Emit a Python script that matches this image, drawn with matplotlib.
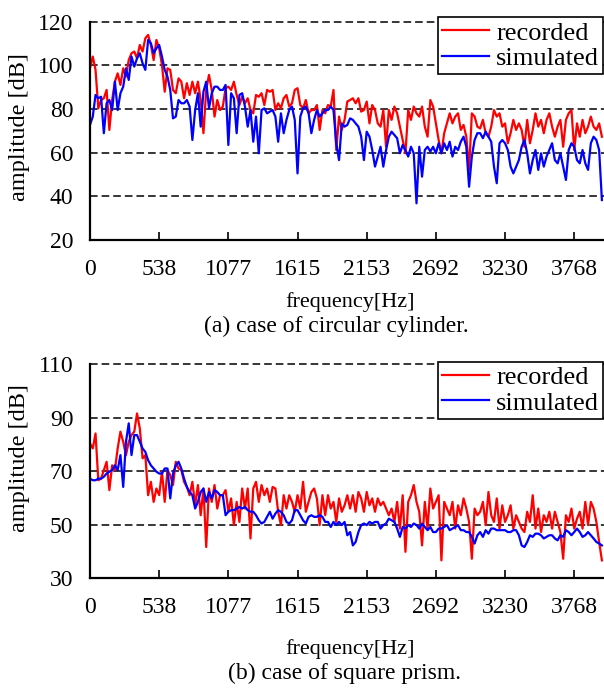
import numpy as np
import matplotlib
matplotlib.use('Agg')
import matplotlib.pyplot as plt

plt.rcParams['font.family'] = ['Liberation Serif', 'DejaVu Serif']

# spectrum bins (every 2nd FFT bin, 44100/2048 Hz)
bin_hz = 44100 / 2048

# (a) circular cylinder, amplitude [dB]
rec_a = [98.6, 104.0, 97.9, 80.3, 84.1, 84.9, 88.7, 70.4, 84.1, 92.5, 96.3, 91.0, 98.6, 94.8, 102.4, 105.5,
         106.3, 103.2, 109.3, 106.3, 112.4, 113.9, 109.3, 102.4, 111.6, 107.8, 100.2, 87.9, 98.6, 97.9, 88.7, 87.2,
         94.0, 92.5, 84.9, 91.8, 86.4, 92.5, 87.2, 92.5, 84.1, 68.9, 88.7, 95.6, 88.7, 76.5, 84.1, 79.5,
         81.1, 89.5, 90.2, 88.7, 92.5, 86.4, 81.8, 85.6, 82.6, 84.9, 79.5, 78.0, 86.4, 85.6, 87.2, 81.8,
         88.7, 87.9, 88.7, 79.5, 82.6, 80.3, 84.9, 86.4, 81.1, 82.6, 88.7, 89.5, 81.8, 80.3, 84.1, 78.0,
         79.5, 79.5, 81.8, 70.4, 79.5, 78.0, 81.8, 81.1, 88.7, 61.2, 76.5, 70.4, 75.0, 83.4,
         84.1, 84.9, 82.6, 84.9, 78.8, 79.5, 83.4, 73.4, 81.8, 79.5, 73.4, 71.9, 79.5, 62.7, 79.5, 75.0,
         81.1, 78.0, 71.9, 65.8, 59.7, 79.5, 75.0, 81.1, 78.0, 76.5, 81.1, 71.9, 67.3, 84.1, 81.1, 73.4,
         65.8, 59.7, 68.9, 73.4, 78.0, 73.4, 76.5, 78.0, 70.4, 72.7, 67.3, 52.1, 78.0, 76.5, 71.9,
         71.1, 75.0, 68.9, 67.3, 71.9, 79.5, 76.5, 78.0, 71.9, 73.4, 64.3, 68.9, 75.0, 70.4, 73.4, 70.4,
         62.7, 75.0, 64.3, 70.4, 78.0, 71.9, 75.0, 68.9, 75.0, 78.0, 71.9, 67.3, 71.9, 75.0, 62.7, 75.0,
         78.0, 79.5, 61.2, 73.4, 67.3, 75.0, 68.9, 71.9, 76.5, 71.9, 70.4, 73.4, 67.3]
sim_a = [72.7, 76.5, 86.4, 84.9, 85.6, 68.9, 82.6, 84.1, 79.5, 92.5, 79.5, 87.2, 90.2, 98.6, 93.3, 104.0,
         99.4, 103.2, 105.5, 100.9, 97.9, 111.6, 110.1, 105.5, 107.8, 109.3, 104.0, 97.9, 94.8, 88.7, 75.7, 76.5,
         84.1, 82.6, 82.6, 84.1, 81.1, 65.8, 79.5, 87.2, 71.9, 87.9, 92.5, 80.3, 87.2, 90.2, 90.2, 88.7,
         88.7, 91.0, 63.5, 87.2, 84.9, 68.9, 86.4, 87.2, 81.1, 71.9, 79.5, 65.0, 76.5, 59.7, 79.5, 80.3,
         78.0, 78.8, 79.5, 76.5, 65.0, 78.0, 68.9, 75.0, 79.5, 81.1, 75.0, 50.5, 76.5, 80.3, 81.1, 78.0,
         68.9, 75.0, 79.5, 76.5, 78.0, 79.5, 79.5, 81.1, 79.5, 64.3, 56.6, 73.4, 71.9, 72.7,
         75.7, 75.0, 73.4, 71.9, 67.3, 56.6, 69.6, 67.3, 61.2, 53.6, 58.2, 62.7, 53.6, 61.2, 67.3, 69.6,
         68.1, 66.6, 59.7, 63.5, 61.2, 58.2, 62.7, 59.7, 36.8, 62.7, 49.0, 61.2, 62.7, 60.5, 62.7, 59.7,
         64.3, 59.7, 64.3, 61.2, 65.0, 58.2, 62.7, 61.2, 65.0, 67.3, 62.7, 44.4, 58.2, 65.8, 68.9,
         68.9, 66.6, 69.6, 67.3, 65.0, 53.6, 46.0, 64.3, 65.8, 64.3, 61.2, 53.6, 50.5, 53.6, 56.6, 62.7,
         65.8, 59.7, 50.5, 56.6, 61.2, 52.1, 59.7, 53.6, 58.2, 61.2, 64.3, 56.6, 55.1, 59.7, 53.6, 47.5,
         61.2, 64.3, 62.7, 56.6, 55.1, 61.2, 55.1, 52.1, 64.3, 67.3, 65.8, 61.2, 38.3]

# (b) square prism, amplitude [dB]
rec_b = [80.4, 78.5, 84.1, 66.6, 67.2, 70.4, 73.5, 62.9, 72.2, 70.4, 78.5, 84.8, 81.0, 76.0, 81.0, 83.5,
         84.8, 91.6, 86.0, 74.8, 76.0, 61.0, 66.0, 58.5, 63.5, 61.0, 69.8, 58.5, 70.4, 68.5, 64.8, 73.5,
         71.0, 70.4, 66.0, 64.1, 61.0, 66.0, 57.2, 64.8, 53.5, 63.5, 41.6, 63.5, 58.5, 64.8, 56.0, 61.0,
         61.0, 62.9, 54.8, 59.8, 49.8, 58.5, 51.0, 63.5, 56.0, 63.5, 44.8, 63.5, 66.0, 58.5, 64.8, 61.0,
         63.5, 58.5, 64.1, 63.5, 54.8, 49.8, 61.0, 56.0, 61.0, 58.5, 54.8, 61.0, 56.0, 66.0, 54.8, 58.5,
         62.2, 63.5, 59.8, 49.8, 61.0, 53.5, 61.0, 56.0, 58.5, 51.0, 59.8, 54.8, 57.2, 61.0,
         56.0, 61.0, 54.8, 62.2, 59.8, 54.8, 62.2, 57.2, 59.8, 54.8, 59.8, 57.2, 58.5, 56.0, 53.5, 56.0,
         51.0, 58.5, 48.5, 61.0, 39.8, 58.5, 61.0, 64.8, 58.5, 54.8, 42.2, 58.5, 48.5, 63.5, 56.0, 58.5,
         61.0, 36.6, 58.5, 56.0, 53.5, 58.5, 48.5, 57.2, 53.5, 59.8, 56.0, 51.0, 37.2, 56.0, 53.5,
         54.8, 58.5, 49.8, 62.2, 53.5, 51.0, 59.8, 48.5, 57.2, 51.0, 53.5, 57.2, 48.5, 53.5, 51.0, 48.5,
         47.2, 54.8, 51.0, 61.0, 48.5, 56.0, 47.2, 53.5, 51.0, 54.8, 48.5, 54.8, 51.0, 47.2, 37.2, 53.5,
         51.0, 56.0, 48.5, 52.2, 54.8, 48.5, 58.5, 49.8, 58.5, 56.0, 51.0, 43.5, 36.6]
sim_b = [67.2, 66.6, 66.6, 67.2, 67.2, 67.9, 69.1, 69.8, 70.4, 72.2, 70.4, 76.0, 64.1, 81.0, 87.9, 76.0,
         83.5, 83.5, 81.0, 78.5, 77.2, 74.1, 72.2, 71.0, 69.8, 69.1, 69.1, 71.0, 71.0, 59.8, 69.1, 72.2,
         73.5, 71.0, 67.2, 64.1, 62.2, 61.0, 56.0, 58.5, 62.2, 63.5, 58.5, 62.2, 59.8, 62.9, 62.2, 61.0,
         61.0, 53.5, 54.8, 55.4, 55.4, 56.0, 56.6, 56.0, 56.6, 55.4, 54.8, 54.8, 53.5, 51.6, 50.4, 51.0,
         52.9, 54.8, 52.2, 54.1, 55.4, 54.8, 53.5, 51.0, 50.4, 51.6, 55.4, 55.4, 53.5, 51.6, 50.4, 52.9,
         53.5, 52.9, 52.9, 53.5, 52.9, 51.0, 51.0, 49.1, 51.0, 49.8, 51.0, 49.8, 51.0, 46.0,
         47.2, 42.2, 43.5, 47.2, 49.8, 50.4, 49.8, 51.0, 50.4, 51.0, 51.0, 48.5, 49.8, 50.4, 52.2, 51.6,
         51.0, 48.5, 45.4, 49.1, 48.5, 49.8, 49.1, 50.4, 49.8, 48.5, 50.4, 49.1, 47.9, 49.1, 47.2, 47.2,
         48.5, 48.5, 49.1, 49.8, 47.9, 48.5, 49.1, 49.8, 47.9, 47.9, 47.2, 47.2, 45.4, 42.9, 46.0,
         47.2, 45.4, 47.9, 46.6, 48.5, 48.5, 47.9, 47.9, 47.9, 47.9, 47.2, 47.2, 47.9, 47.9, 46.0, 42.2,
         41.6, 43.5, 46.0, 45.4, 46.6, 46.6, 46.0, 44.8, 45.4, 46.0, 46.0, 44.8, 44.1, 46.0, 45.4, 47.9,
         47.2, 46.0, 47.2, 48.5, 47.2, 45.4, 46.0, 47.2, 46.0, 44.8, 43.5, 42.9, 42.2]

xtick_labels = ['0', '538', '1077', '1615', '2153', '2692', '3230', '3768']
captions = ['(a) case of circular cylinder.', '(b) case of square prism.']

W, H = 604, 689
fig = plt.figure(figsize=(W / 100, H / 100), dpi=100)


def panel(top, bottom, rec, sim, ylim, yticks, leg_top):
    ax = fig.add_axes([90 / W, 1 - bottom / H, 514 / W, (bottom - top) / H])
    f = np.arange(len(rec)) * bin_hz
    ax.plot(f, rec, color='#ff0000', lw=1.6, label='recorded')
    ax.plot(f, sim, color='#0000ff', lw=1.6, label='simulated')
    ax.set_xlim(0, 4000)
    ax.set_ylim(*ylim)
    for v in yticks[1:]:
        ax.axhline(v, color='black', lw=1.1, ls=(0, (5, 2.6)), clip_on=False, zorder=0.5)
    ax.set_yticks(yticks)
    ax.set_xticks(np.arange(len(xtick_labels)) * bin_hz * 25)
    ax.set_xticklabels(xtick_labels)
    ax.tick_params(axis='x', direction='in', length=6, width=1.2, pad=14, labelsize=17)
    ax.tick_params(axis='y', length=0, pad=12, labelsize=17)
    for s in ['top', 'right']:
        ax.spines[s].set_visible(False)
    for s in ['left', 'bottom']:
        ax.spines[s].set_linewidth(1.6)
    leg = ax.legend(loc='upper right', bbox_to_anchor=(603 / W, 1 - leg_top / H),
                    bbox_transform=fig.transFigure, fontsize=19, frameon=True,
                    fancybox=False, edgecolor='black', framealpha=1, borderpad=0.15,
                    labelspacing=0.08, handlelength=1.8, handletextpad=0.25, borderaxespad=0)
    leg.get_frame().set_linewidth(1.2)
    return ax


panel(21.6, 240, rec_a, sim_a, (20, 120), [20, 40, 60, 80, 100, 120], 17.3)
panel(364.3, 578, rec_b, sim_b, (30, 110), [30, 50, 70, 90, 110], 361.7)

fig.text(20 / W, 1 - 127 / H, 'amplitude [dB]', rotation=90, ha='center', va='center', fontsize=17.5)
fig.text(20 / W, 1 - 458 / H, 'amplitude [dB]', rotation=90, ha='center', va='center', fontsize=17.5)
fig.text(350 / W, 1 - 302 / H, 'frequency[Hz]', ha='center', va='center', fontsize=16)
fig.text(336 / W, 1 - 326 / H, captions[0], ha='center', va='center', fontsize=17)
fig.text(350 / W, 1 - 649 / H, 'frequency[Hz]', ha='center', va='center', fontsize=16)
fig.text(344 / W, 1 - 673 / H, captions[1], ha='center', va='center', fontsize=17)

fig.savefig('out.png', dpi=100)
